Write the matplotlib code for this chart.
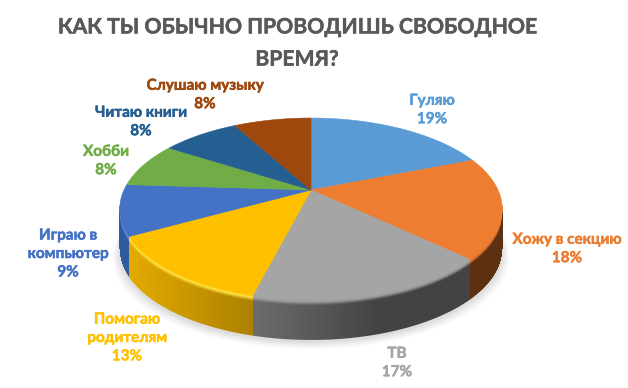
import numpy as np
import matplotlib
matplotlib.use("Agg")
import matplotlib.pyplot as plt
import matplotlib.patheffects as pe
from matplotlib.colors import to_rgb

title = "КАК ТЫ ОБЫЧНО ПРОВОДИШЬ СВОБОДНОЕ\nВРЕМЯ?"
categories = ["Гуляю", "Хожу в секцию", "ТВ", "Помогаю\nродителям",
              "Играю в\nкомпьютер", "Хобби", "Читаю книги", "Слушаю музыку"]
values = [19, 18, 17, 13, 9, 8, 8, 8]
colors = ["#5B9BD5", "#ED7D31", "#A5A5A5", "#FFC000",
          "#4472C4", "#70AD47", "#255E91", "#9E480E"]
label_pos = [(432, 110), (567, 249), (397, 363), (127, 338),
             (68, 254), (106, 161), (141, 122), (205, 95)]

plt.rcParams['font.family'] = ['Lato', 'Open Sans', 'DejaVu Sans']

W, H = 628, 388
CX, CY, A, B, K, DEPTH = 311, 190, 187.0, 87, 0.209, 40


def project(ang):
    """clockwise angle from 12 o'clock (radians) -> pixel x, y on the tilted disc"""
    u, v = np.sin(ang), np.cos(ang)
    w = 1 + K * v
    return CX + A * u / w, CY - B * v / w


def rgb(h):
    return np.array(to_rgb(h))


# wall colour at the left and right of each wedge's x range, plus its rim colour
wall_left = {1: "#5E3012", 2: "#6C6C6C", 3: "#E2AA00", 4: "#2F5A9E"}
wall_right = {1: "#5E3012", 2: "#434343", 3: "#AC8000", 4: "#2F5A9E"}
rim_col = {1: "#E87A30", 2: "#A0A0A0", 3: "#FFDE3C", 4: "#5C8EE0"}
shade_span = {1: (400, 503), 2: (255, 380), 3: (132, 255), 4: (120, 133)}

fig = plt.figure(figsize=(W / 100, H / 100), dpi=100, facecolor="white")
ax = fig.add_axes([0, 0, 1, 1])
ax.set_xlim(0, W)
ax.set_ylim(H, 0)
ax.axis("off")

# soft shadow under the pie
th = np.linspace(0, 2 * np.pi, 240)
xs, ys = project(th)
for grow, al in [(7, 0.03), (5, 0.04), (3, 0.05), (1, 0.06)]:
    ax.fill(CX + (xs - CX) * (1 + grow / 192), ys + DEPTH + 2 + grow,
            color="#404040", alpha=al, lw=0, zorder=1)

edges = np.cumsum([0] + values) / sum(values) * 2 * np.pi

# wall: per-pixel RGBA image built from the front arc of the projected disc
dense = np.linspace(0, 2 * np.pi, 7200)
dx, dy = project(dense)
i_r, i_l = np.argmax(dx), np.argmin(dx)
fx, fy, fa = dx[i_r:i_l + 1][::-1], dy[i_r:i_l + 1][::-1], dense[i_r:i_l + 1][::-1]

img = np.zeros((H, W, 4))
px = np.arange(W) + 0.5
py = np.arange(H) + 0.5
for col_i, x in enumerate(px):
    if x < fx[0] - 0.5 or x > fx[-1] + 0.5:
        continue
    ytop = np.interp(x, fx, fy)
    ang = np.interp(x, fx, fa)
    w = int(np.clip(np.searchsorted(edges, ang) - 1, 0, len(values) - 1))
    lo, hi = shade_span.get(w, (fx[0], fx[-1]))
    t = np.clip((x - lo) / (hi - lo), 0, 1)
    wall = rgb(wall_left.get(w, colors[w])) * (1 - t) + rgb(wall_right.get(w, colors[w])) * t
    rim = rgb(rim_col.get(w, colors[w]))
    d = py - ytop
    s = np.clip((d - 1.0) / 5.0, 0, 1)
    s = s * s * (3 - 2 * s)
    shade = rim[None, :] * (1 - s[:, None]) + wall[None, :] * s[:, None]
    alpha = np.clip(DEPTH - d + 0.5, 0, 1) * (d > -3)
    img[:, col_i, :3] = shade
    img[:, col_i, 3] = alpha
ax.imshow(img, extent=(0, W, H, 0), interpolation="nearest", aspect="auto", zorder=2)
ax.set_xlim(0, W)
ax.set_ylim(H, 0)

# top surface
for i in range(len(values)):
    a = np.linspace(edges[i], edges[i + 1], 80)
    x, y = project(a)
    ax.fill(np.r_[CX, x], np.r_[CY, y], facecolor=colors[i],
            edgecolor=colors[i], lw=0.4, zorder=4)

# labels
stroke = lambda c: [pe.withStroke(linewidth=0.35, foreground=c)]
for cat, val, col, (lx, ly) in zip(categories, values, colors, label_pos):
    ax.text(lx, ly, f"{cat}\n{val}%", color=col, fontsize=11, fontweight="bold",
            ha="center", va="center", linespacing=1.4, zorder=6, path_effects=stroke(col))

ax.text(297, 43.5, title, color="#595959", fontsize=15.25, fontweight="bold",
        ha="center", va="center", linespacing=1.76, zorder=6, path_effects=stroke("#595959"))

fig.savefig("out.png", dpi=100, facecolor="white")
